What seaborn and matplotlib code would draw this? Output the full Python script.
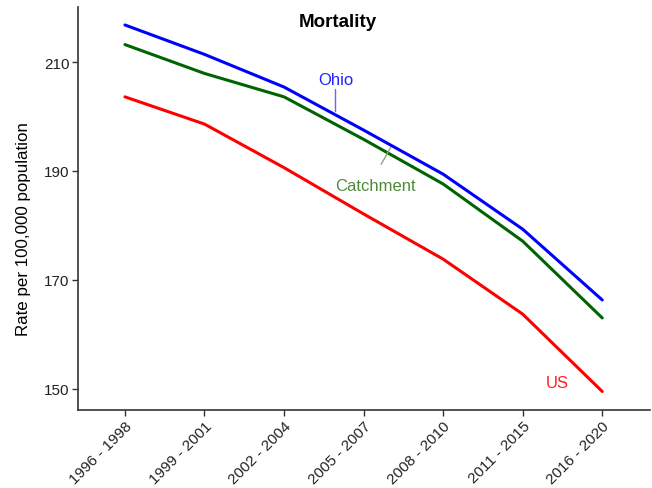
import matplotlib
matplotlib.use("Agg")
import matplotlib.pyplot as plt
import seaborn as sns
import pandas as pd

periods = ["1996 - 1998", "1999 - 2001", "2002 - 2004", "2005 - 2007",
           "2008 - 2010", "2011 - 2015", "2016 - 2020"]
ohio = [216.8, 211.4, 205.4, 197.5, 189.4, 179.3, 166.3]
catchment = [213.2, 207.9, 203.6, 195.8, 187.6, 177.1, 163.0]
us = [203.6, 198.6, 190.6, 182.1, 173.8, 163.7, 149.5]
y_ticks = [150, 170, 190, 210]

df = pd.DataFrame({
    "period": periods * 3,
    "idx": list(range(len(periods))) * 3,
    "rate": ohio + catchment + us,
    "area": ["Ohio"] * 7 + ["Catchment"] * 7 + ["US"] * 7,
})

sns.set_theme(style="white")
plt.rcParams["font.family"] = ["Liberation Sans", "DejaVu Sans"]

fig = plt.figure(figsize=(6.52, 4.89), dpi=100)
ax = fig.add_axes([78 / 652, 1 - 411 / 489, 572 / 652, 403 / 489])

palette = {"Ohio": "#0000ff", "Catchment": "#006400", "US": "#ff0000"}
sns.lineplot(data=df, x="idx", y="rate", hue="area", palette=palette,
             linewidth=2.2, legend=False, ax=ax)

ax.set_xlim(-0.59, 6.6)
ax.set_ylim(146.1, 220.1)
ax.set_xticks(range(len(periods)))
ax.set_xticklabels(periods, rotation=45, ha="right", rotation_mode="anchor",
                   fontsize=11, color="#222222")
ax.set_yticks(y_ticks)
ax.set_yticklabels([str(t) for t in y_ticks], fontsize=11, color="#222222")
ax.tick_params(axis="both", direction="out", length=4, width=1, color="#333333",
               bottom=True, left=True, pad=2)
ax.set_xlabel("")
ax.set_ylabel("Rate per 100,000 population", fontsize=12.2, color="black")
ax.yaxis.set_label_coords(-0.082, 0.452)

for side in ["top", "right"]:
    ax.spines[side].set_visible(False)
for side in ["left", "bottom"]:
    ax.spines[side].set_color("#333333")
    ax.spines[side].set_linewidth(1.2)

ax.text(2.67, 217.5, "Mortality", fontsize=13.5, fontweight="bold",
        ha="center", va="center", color="black")

# Direct labels with leader lines
ax.plot([2.64, 2.64], [205.1, 201.0], color="#6666ff", lw=1)
ax.text(2.65, 206.8, "Ohio", color="#2222ff", fontsize=12, ha="center", va="center")
ax.plot([3.34, 3.22], [194.3, 191.2], color="#88aa77", lw=1)
ax.text(3.15, 187.3, "Catchment", color="#4f8a38", fontsize=12, ha="center", va="center")
ax.text(5.43, 151.1, "US", color="#ff2020", fontsize=12, ha="center", va="center")

fig.savefig("out.png", dpi=100)
